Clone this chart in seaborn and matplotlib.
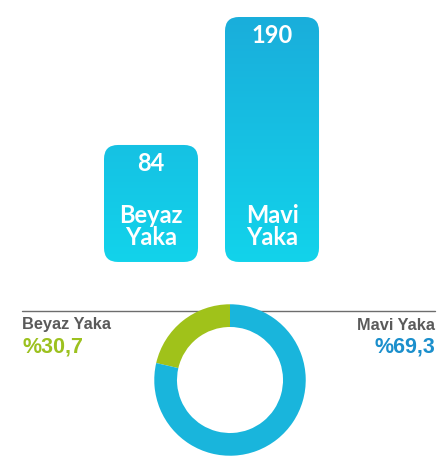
import numpy as np
import matplotlib
matplotlib.use("Agg")
from matplotlib import pyplot as plt
from matplotlib.patches import FancyBboxPatch
from matplotlib.lines import Line2D
from matplotlib.colors import LinearSegmentedColormap
import seaborn as sns

# Veriler
kategoriler = ["Beyaz\nYaka", "Mavi\nYaka"]
calisan_sayisi = [84, 190]
donut_isimler = ["Beyaz Yaka", "Mavi Yaka"]
oranlar = [30.7, 69.3]
# halkada çizilen dilimler
halka_dilimleri = [21.4, 78.6]

sns.set_theme(style="white")
plt.rcParams["font.family"] = ["Lato", "DejaVu Sans"]

fig = plt.figure(figsize=(4.4, 4.58), dpi=100)
fig.patch.set_facecolor("white")

# Çubuk grafik
ax1 = fig.add_axes([0.2057, 0.4214, 0.55, 0.5568])
sns.barplot(x=kategoriler, y=calisan_sayisi, ax=ax1, width=0.777, color="#17bfe0")
ax1.set_xlim(-0.5, 1.5)
ax1.set_ylim(-15.4, 195.8)
ax1.axis("off")

grad = LinearSegmentedColormap.from_list("g", ["#12d3eb", "#1aaedb"])
taban = -12.9
ust = max(calisan_sayisi)
for p, v, lab in zip(list(ax1.patches), calisan_sayisi, kategoriler):
    x, w, h = p.get_x(), p.get_width(), p.get_height()
    p.set_visible(False)
    kutu = FancyBboxPatch((x, taban), w, h - taban,
                          boxstyle="round,pad=0,rounding_size=0.116",
                          mutation_aspect=100, facecolor="none", edgecolor="none")
    ax1.add_patch(kutu)
    img = ax1.imshow(np.linspace(0, 1, 100).reshape(-1, 1), cmap=grad, aspect="auto",
                     extent=(x, x + w, taban, ust), origin="lower", zorder=2)
    img.set_clip_path(kutu)
    ax1.annotate(str(v), (x + w / 2, h), xytext=(0, -13), textcoords="offset points",
                 ha="center", va="center", color="white", fontsize=17, fontweight="bold", zorder=3)
    ax1.text(x + w / 2, 16.5, lab, ha="center", va="center", color="white",
             fontsize=17, fontweight="bold", linespacing=0.92, zorder=3)
ax1.set_xlim(-0.5, 1.5)
ax1.set_ylim(-15.4, 195.8)

# Çizgi
fig.add_artist(Line2D([22 / 440, 435 / 440], [1 - 311 / 458, 1 - 311 / 458],
                      color="#6d6d6d", lw=1, zorder=1))

# Halka grafik
ax2 = fig.add_axes([152 / 440, 0, 156 / 440, 156 / 458])
ax2.set_zorder(2)
ax2.pie(halka_dilimleri, colors=["#a0c21a", "#19b5dc"], startangle=90, counterclock=True,
        radius=1, wedgeprops=dict(width=0.30, edgecolor="none"))
ax2.set_xlim(-1.03, 1.03)
ax2.set_ylim(-1.03, 1.03)
ax2.set_aspect("auto")
ax2.axis("off")

# Etiketler
fig.text(22 / 440, 1 - 325 / 458, donut_isimler[0], ha="left", va="center",
         fontsize=11.8, fontweight="bold", color="#5a5a5a", family="Liberation Sans")
fig.text(22 / 440, 1 - 347 / 458, "%" + f"{oranlar[0]:.1f}".replace(".", ","), ha="left",
         va="center", fontsize=15.5, fontweight="bold", color="#9cc11f", family="Liberation Sans")
fig.text(435 / 440, 1 - 325 / 458, donut_isimler[1], ha="right", va="center",
         fontsize=11.8, fontweight="bold", color="#5a5a5a", family="Liberation Sans")
fig.text(435 / 440, 1 - 347 / 458, "%" + f"{oranlar[1]:.1f}".replace(".", ","), ha="right",
         va="center", fontsize=15.5, fontweight="bold", color="#1b8fcc", family="Liberation Sans")

fig.savefig("out.png", dpi=100)
